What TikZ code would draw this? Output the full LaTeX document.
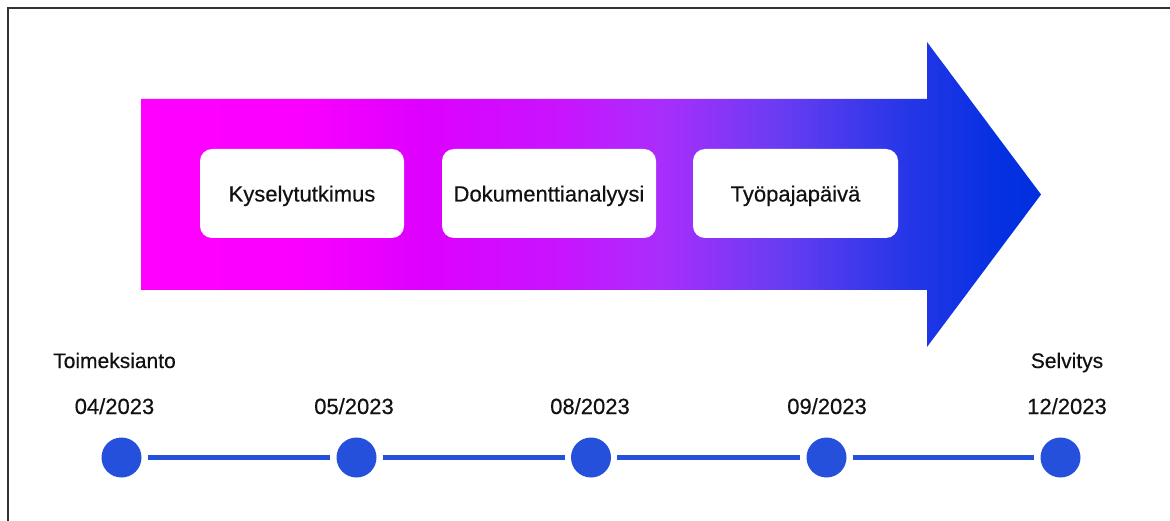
\documentclass[tikz,border=0pt]{standalone}
\usepackage{fontspec}
\setmainfont{Liberation Sans}[FakeBold=0.4,AutoFakeBold=0.4]
\definecolor{sA}{RGB}{255,0,255}
\definecolor{sB}{RGB}{250,0,255}
\definecolor{sC}{RGB}{222,0,255}
\definecolor{sD}{RGB}{200,20,255}
\definecolor{sE}{RGB}{170,45,252}
\definecolor{sF}{RGB}{105,60,242}
\definecolor{sG}{RGB}{40,55,232}
\definecolor{sH}{RGB}{5,48,225}
\definecolor{sI}{RGB}{0,48,222}
\definecolor{tlblue}{RGB}{36,80,220}
\definecolor{framegray}{RGB}{50,50,50}
\definecolor{txt}{RGB}{17,17,17}
\pgfdeclarehorizontalshading{arrowshade}{100bp}{color(0bp)=(sA); color(25bp)=(sA); color(33.8bp)=(sB); color(40.5bp)=(sC); color(48.3bp)=(sD); color(53.8bp)=(sE); color(60.5bp)=(sF); color(67.2bp)=(sG); color(72.7bp)=(sH); color(75bp)=(sI); color(100bp)=(sI)}
\begin{document}
\begin{tikzpicture}[x=1pt,y=-1pt,
  stagebox/.style={fill=white, rounded corners=12pt, minimum height=89pt, inner sep=0pt,
    text height=16pt, text depth=0pt, font=\fontsize{22}{26}\selectfont\bfseries, text=txt},
  datelbl/.style={anchor=base, font=\fontsize{22}{26}\selectfont\bfseries, text=txt, inner sep=0pt},
  eventlbl/.style={anchor=base, font=\fontsize{21}{25}\selectfont\bfseries, text=txt, inner sep=0pt},
  dot/.style={circle, fill=tlblue, minimum size=40pt, inner sep=0pt},
  tlline/.style={draw=tlblue, line width=4.5pt, shorten >=6pt, shorten <=6pt}]
\useasboundingbox (0,0) rectangle (1170,521);
% frame (top and left edges visible)
\coordinate (fTR) at (1170,8);
\coordinate (fTL) at (8,8);
\coordinate (fBL) at (8,521);
\draw[framegray, line width=1.5pt] (fTR) -- (fTL) -- (fBL);
% big arrow
\path[shading=arrowshade, shading angle=0]
  (141,99) -- (927,99) -- (927,42) -- (1041,194.5) -- (927,347) -- (927,290) -- (141,290) -- cycle;
% stage boxes
\node[stagebox, minimum width=204pt] (k) at (302,193.5) {Kyselytutkimus};
\node[stagebox, minimum width=214pt] (d) at (549,193.5) {Dokumenttianalyysi};
\node[stagebox, minimum width=205pt] (t) at (795.5,193.5) {Työpajapäivä};
% timeline
\node[dot] (c1) at (121.5,457.5) {};
\node[dot] (c2) at (356.5,457.5) {};
\node[dot] (c3) at (591,457.5) {};
\node[dot] (c4) at (826.5,457.5) {};
\node[dot] (c5) at (1060.5,457.5) {};
\draw[tlline] (c1) -- (c2);
\draw[tlline] (c2) -- (c3);
\draw[tlline] (c3) -- (c4);
\draw[tlline] (c4) -- (c5);
\node[datelbl] (d1) at (114.5,414) {04/2023};
\node[datelbl] (d2) at (354,414) {05/2023};
\node[datelbl] (d3) at (590,414) {08/2023};
\node[datelbl] (d4) at (827,414) {09/2023};
\node[datelbl] (d5) at (1067,414) {12/2023};
\node[eventlbl] (e1) at (114.5,368) {Toimeksianto};
\node[eventlbl] (e5) at (1067,368) {Selvitys};
\end{tikzpicture}
\end{document}
